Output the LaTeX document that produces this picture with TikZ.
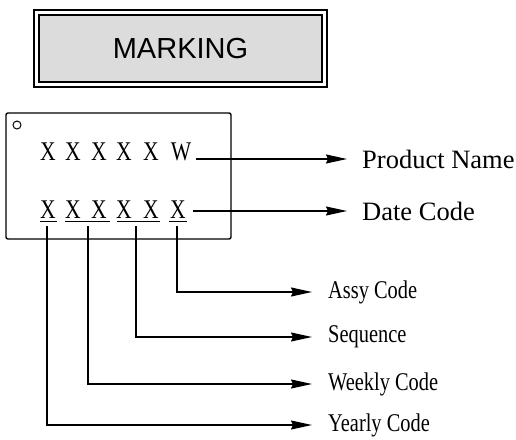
\documentclass[tikz,border=0pt]{standalone}
\usepackage{fontspec}
\setmainfont{Liberation Serif}
\newfontfamily\markfont{Liberation Sans}
\newfontfamily\narrowfont[FakeStretch=0.8]{Liberation Serif}
\usetikzlibrary{arrows.meta}
\definecolor{markgray}{RGB}{220,220,220}

\begin{document}
\begin{tikzpicture}
[x=1pt,y=-1pt,
  titledecorate/.style={draw,double=white,double distance=3pt,line width=2pt,fill=markgray,%
    minimum width=288pt,minimum height=72pt,inner sep=0pt,font=\markfont\fontsize{29}{29}\selectfont},%
  chardecorate/.style={anchor=base,inner sep=0pt,font=\narrowfont\fontsize{27}{27}\selectfont},%
  labeldecorate/.style={anchor=west,inner sep=0pt,inner xsep=15pt,font=\fontsize{26.5}{26.5}\selectfont},%
  smalllabel/.style={anchor=west,inner sep=0pt,inner xsep=16pt,font=\narrowfont\fontsize{25.5}{25.5}\selectfont},%
  linedecorate/.style={line width=1.4pt},%
  arrowdecorate/.style={linedecorate,-{Stealth[length=21pt,width=9pt,inset=2pt]}},%
  elbowdecorate/.style={arrowdecorate,to path={|- (\tikztotarget)}}]
\useasboundingbox (0,0) rectangle (516,439);
%% title
\node (marking) at (180.5,48.5) [titledecorate] {MARKING};
%% chip outline
\draw[linedecorate,rounded corners=2pt] (6,113) rectangle (231,239);
\draw[line width=1pt] (17,125) circle (4);
%% marking characters
\foreach \nodename/\x/\c in {a1/48/X, a2/73/X, a3/99/X, a4/124/X, a5/151/X, a6/181/W}
{
  \node (\nodename) at (\x,160) [chardecorate] {\c};
}
\foreach \nodename/\x in {b1/48, b2/73, b3/99, b4/124, b5/151, b6/178}
{
  \node (\nodename) at (\x,218) [chardecorate] {X};
}
%% underlines
\foreach \xa/\xb in {40/57, 65/110, 117/160, 169/187}
{
  \draw[line width=1pt] (\xa,221) -- (\xb,221);
}
%% labels
\node (pname) at (347,159) [labeldecorate] {Product Name};
\node (dcode) at (347,211) [labeldecorate] {Date Code};
\node (assy) at (312,292) [smalllabel] {Assy Code};
\node (seq) at (312,337) [smalllabel] {Sequence};
\node (week) at (312,384) [smalllabel] {Weekly Code};
\node (year) at (312,425) [smalllabel] {Yearly Code};
%% group ends
\foreach \nodename/\x in {g1/47, g2/88, g3/136, g4/177}
{
  \coordinate (\nodename) at (\x,226);
}
%% connectors
\draw[arrowdecorate] ([xshift=5pt]a6.east |- pname.west) -- (pname.west);
\draw[arrowdecorate] ([xshift=7pt]b6.east |- dcode.west) -- (dcode.west);
\path
\foreach \startnode/\endnode in {g4/assy, g3/seq, g2/week, g1/year}
{
  (\startnode) edge[elbowdecorate] (\endnode.west)
};
\end{tikzpicture}
\end{document}
